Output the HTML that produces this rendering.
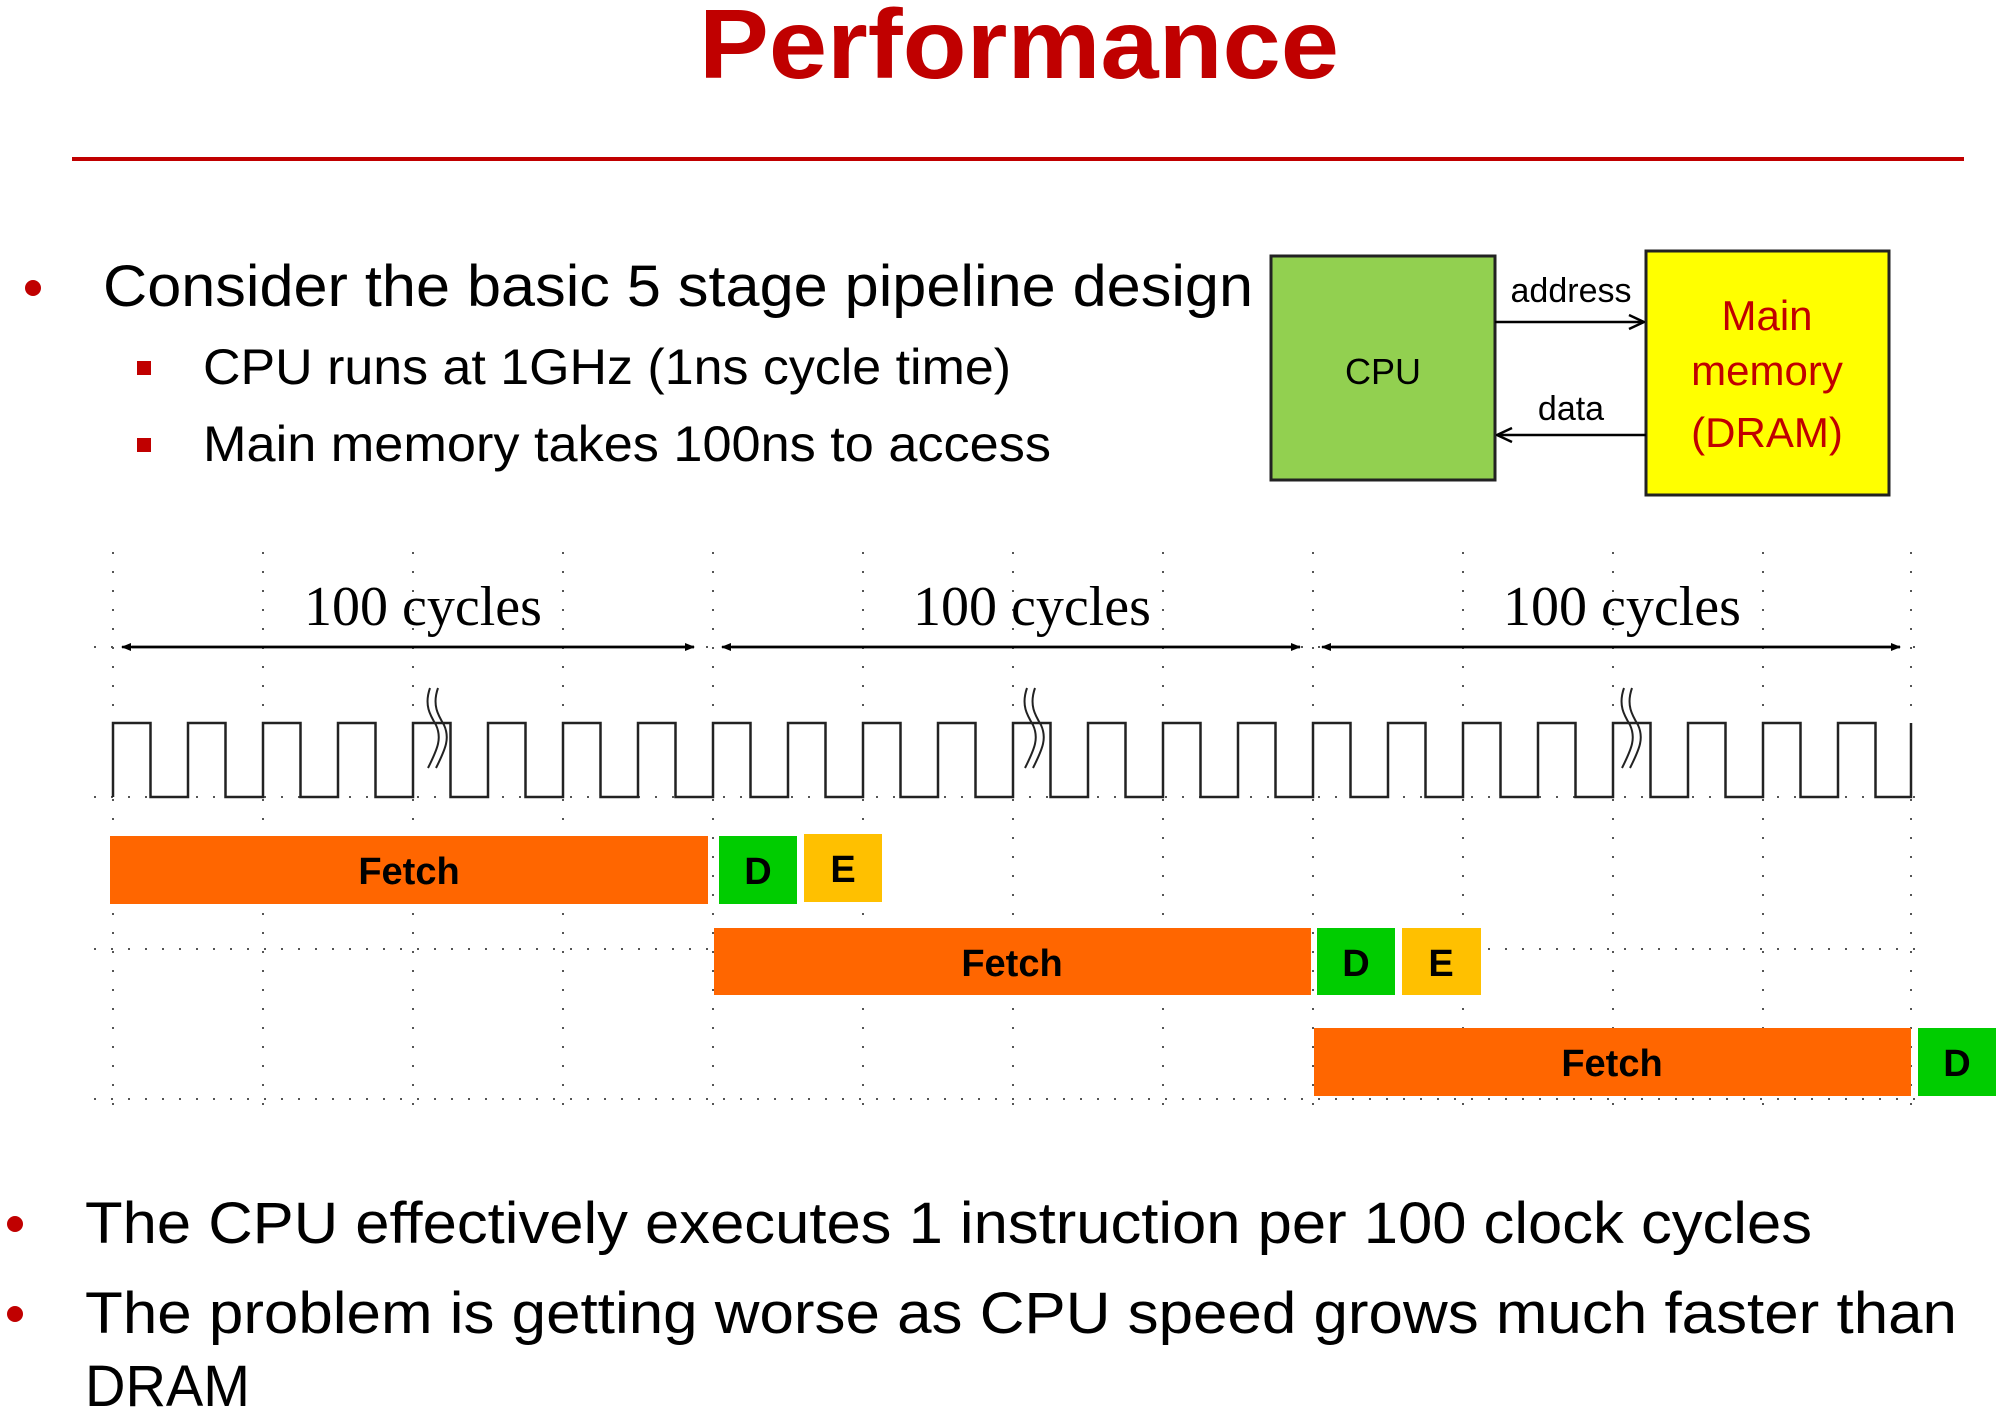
<!DOCTYPE html>
<html><head><meta charset="utf-8"><style>
html,body{margin:0;padding:0;background:#fff;}
svg{display:block;}
</style></head><body>
<svg width="2000" height="1427" viewBox="0 0 2000 1427" xmlns="http://www.w3.org/2000/svg">
<defs>
<marker id="ah" viewBox="0 0 10 10" refX="9" refY="5" markerWidth="10" markerHeight="10" markerUnits="userSpaceOnUse" orient="auto"><path d="M0,1 L10,5 L0,9 z" fill="#000"/></marker>
<marker id="oa" viewBox="0 0 20 20" refX="19" refY="10" markerWidth="20" markerHeight="20" markerUnits="userSpaceOnUse" orient="auto"><path d="M4,3 L19,10 L4,17" fill="none" stroke="#000" stroke-width="2.5"/></marker>
</defs>
<g font-family="Liberation Sans, sans-serif">
<text x="1019" y="78" text-anchor="middle" font-size="98" font-weight="bold" fill="#c00000" textLength="640" lengthAdjust="spacingAndGlyphs">Performance</text>
<rect x="72" y="157" width="1892" height="4" fill="#c00000"/>
<circle cx="33" cy="288" r="8" fill="#c00000"/>
<text x="103" y="306" font-size="58" fill="#000" textLength="1150" lengthAdjust="spacingAndGlyphs">Consider the basic 5 stage pipeline design</text>
<rect x="137" y="361" width="14" height="14" fill="#c00000"/>
<rect x="137" y="438" width="14" height="14" fill="#c00000"/>
<text x="203" y="384" font-size="50" fill="#000" textLength="808" lengthAdjust="spacingAndGlyphs">CPU runs at 1GHz (1ns cycle time)</text>
<text x="203" y="461" font-size="50" fill="#000" textLength="848" lengthAdjust="spacingAndGlyphs">Main memory takes 100ns to access</text>

<rect x="1271" y="256" width="224" height="224" fill="#92d050" stroke="#222" stroke-width="3"/>
<text x="1383" y="384" font-size="36" text-anchor="middle" fill="#000">CPU</text>
<rect x="1646" y="251" width="243" height="244" fill="#ffff00" stroke="#222" stroke-width="3"/>
<text x="1767" y="330" font-size="42" text-anchor="middle" fill="#c00000">Main</text>
<text x="1767" y="385" font-size="42" text-anchor="middle" fill="#c00000">memory</text>
<text x="1767" y="447" font-size="42" text-anchor="middle" fill="#c00000">(DRAM)</text>
<line x1="1495" y1="322" x2="1644" y2="322" stroke="#000" stroke-width="2.5" marker-end="url(#oa)"/>
<line x1="1646" y1="435" x2="1497" y2="435" stroke="#000" stroke-width="2.5" marker-end="url(#oa)"/>
<text x="1571" y="302" font-size="34" text-anchor="middle" fill="#000">address</text>
<text x="1571" y="420" font-size="34" text-anchor="middle" fill="#000">data</text>
</g>

<g stroke="#555" stroke-width="2" stroke-dasharray="2 17" fill="none">
<path d="M113 552V1118 M263 552V1118 M413 552V1118 M563 552V1118 M713 552V1118 M863 552V1118 M1013 552V1118 M1163 552V1118 M1313 552V1118 M1463 552V1118 M1613 552V1118 M1763 552V1118 M1911 552V1118"/>
<path d="M94 647H1930 M94 797H1930 M94 949H1930 M94 1099H1930" stroke-dasharray="2 15"/>
</g>

<g stroke="#000" stroke-width="2.5">
<line x1="132" y1="647" x2="694" y2="647" marker-end="url(#ah)"/>
<line x1="694" y1="647" x2="122" y2="647" marker-end="url(#ah)"/>
<line x1="732" y1="647" x2="1300" y2="647" marker-end="url(#ah)"/>
<line x1="1300" y1="647" x2="722" y2="647" marker-end="url(#ah)"/>
<line x1="1332" y1="647" x2="1900" y2="647" marker-end="url(#ah)"/>
<line x1="1900" y1="647" x2="1322" y2="647" marker-end="url(#ah)"/>
</g>
<g font-family="Liberation Serif, serif" font-size="56" fill="#000" text-anchor="middle">
<text x="423" y="625">100 cycles</text>
<text x="1032" y="625">100 cycles</text>
<text x="1622" y="625">100 cycles</text>
</g>

<path fill="none" stroke="#222" stroke-width="2.5" d="M113 797V723H150.5V797H188V723H225.5V797H263V723H300.5V797H338V723H375.5V797H413V723H450.5V797H488V723H525.5V797H563V723H600.5V797H638V723H675.5V797H713V723H750.5V797H788V723H825.5V797H863V723H900.5V797H938V723H975.5V797H1013V723H1050.5V797H1088V723H1125.5V797H1163V723H1200.5V797H1238V723H1275.5V797H1313V723H1350.5V797H1388V723H1425.5V797H1463V723H1500.5V797H1538V723H1575.5V797H1613V723H1650.5V797H1688V723H1725.5V797H1763V723H1800.5V797H1838V723H1875.5V797H1911V723"/>
<g fill="none" stroke="#222" stroke-width="2">
<path id="br" d="M430 688 C424 705 430 715 436 725 C442 738 438 748 428 768 M438 688 C432 705 438 715 444 725 C450 738 446 748 436 768"/>
<use href="#br" x="597"/>
<use href="#br" x="1194"/>
</g>

<g font-family="Liberation Sans, sans-serif" font-weight="bold" font-size="38" fill="#000" text-anchor="middle">
<rect x="110" y="836" width="598" height="68" fill="#ff6600"/>
<text x="409" y="884">Fetch</text>
<rect x="719" y="836" width="78" height="68" fill="#00cc00"/>
<text x="758" y="884">D</text>
<rect x="804" y="834" width="78" height="68" fill="#ffc000"/>
<text x="843" y="882">E</text>
<rect x="714" y="928" width="597" height="67" fill="#ff6600"/>
<text x="1012" y="976">Fetch</text>
<rect x="1317" y="928" width="78" height="67" fill="#00cc00"/>
<text x="1356" y="976">D</text>
<rect x="1402" y="928" width="79" height="67" fill="#ffc000"/>
<text x="1441" y="976">E</text>
<rect x="1314" y="1028" width="597" height="68" fill="#ff6600"/>
<text x="1612" y="1076">Fetch</text>
<rect x="1918" y="1028" width="78" height="68" fill="#00cc00"/>
<text x="1957" y="1076">D</text>
</g>

<g font-family="Liberation Sans, sans-serif" font-size="58" fill="#000">
<circle cx="15" cy="1224" r="8" fill="#c00000"/>
<circle cx="15" cy="1314" r="8" fill="#c00000"/>
<text x="85" y="1243" textLength="1727" lengthAdjust="spacingAndGlyphs">The CPU effectively executes 1 instruction per 100 clock cycles</text>
<text x="85" y="1333" textLength="1872" lengthAdjust="spacingAndGlyphs">The problem is getting worse as CPU speed grows much faster than</text>
<text x="85" y="1406" textLength="165" lengthAdjust="spacingAndGlyphs">DRAM</text>
</g>
</svg>
</body></html>
